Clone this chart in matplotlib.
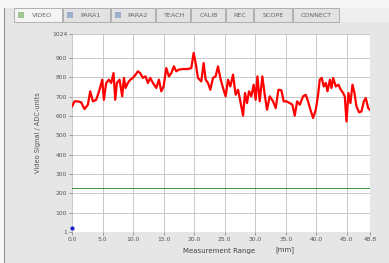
import matplotlib.pyplot as plt
from matplotlib.patches import Rectangle

position = [0.0, 0.41, 0.96, 1.50, 2.05, 2.60, 2.98, 3.42, 3.96, 4.51, 4.95, 5.22,
            5.60, 6.04, 6.42, 6.80, 7.08, 7.35, 7.79, 8.22, 8.50, 8.77, 9.15, 9.54,
            9.97, 10.41, 10.79, 11.17, 11.61, 12.05, 12.43, 12.81, 13.25, 13.80,
            14.23, 14.62, 15.00, 15.44, 15.87, 16.26, 16.69, 17.08, 17.51, 18.17,
            18.99, 19.54, 19.92, 20.25, 20.63, 21.17, 21.56, 21.89, 22.27, 22.65,
            23.09, 23.52, 23.91, 24.29, 24.73, 25.16, 25.55, 25.93, 26.37, 26.80,
            27.19, 27.57, 28.01, 28.33, 28.66, 28.99, 29.37, 29.75, 30.08, 30.36,
            30.74, 31.17, 31.56, 31.94, 32.38, 32.92, 33.36, 33.80, 34.29, 34.67,
            35.11, 35.66, 36.09, 36.48, 36.86, 37.30, 37.84, 38.28, 38.66, 39.04,
            39.48, 39.92, 40.30, 40.57, 40.90, 41.23, 41.56, 41.84, 42.23, 42.49,
            42.76, 43.20, 43.63, 44.02, 44.40, 44.67, 44.95, 45.27, 45.60, 45.93,
            46.26, 46.58, 47.02, 47.40, 47.79, 48.11, 48.50, 48.77]
signal = [650, 676, 676, 671, 636, 659, 728, 676, 684, 736, 788, 684,
          771, 788, 771, 822, 684, 771, 788, 702, 797, 745, 771, 788,
          797, 814, 831, 822, 797, 805, 771, 797, 771, 745,
          788, 728, 753, 848, 805, 822, 857, 831, 840, 843,
          843, 848, 926, 874, 797, 779, 874, 788, 771, 736,
          797, 805, 857, 797, 745, 702, 788, 753, 814, 710,
          736, 676, 602, 719, 667, 728, 702, 762, 684, 805,
          676, 805, 710, 633, 702, 676, 641, 736, 733, 676,
          676, 667, 659, 602, 676, 659, 702, 710, 676, 633,
          590, 633, 710, 788, 797, 753, 771, 728, 788, 745,
          797, 753, 762, 736, 719, 702, 572, 719, 667, 762,
          719, 650, 619, 624, 676, 693, 641, 633]
threshold = 228
start_point = (0.0, 22)

tabs = ["VIDEO", "PARA1", "PARA2", "TEACH", "CALIB", "REC", "SCOPE", "CONNECT"]
tab_edges = [14, 63, 111, 156, 191, 226, 254, 293, 340]  # pixel columns of the tab strip

y_ticks = [1, 100, 200, 300, 400, 500, 600, 700, 800, 900, 1024]
x_ticks = [0.0, 5.0, 10.0, 15.0, 20.0, 25.0, 30.0, 35.0, 40.0, 45.0, 48.8]

W, H = 389, 263
fig = plt.figure(figsize=(W / 100, H / 100), dpi=100)
fig.patch.set_facecolor('#e6e6e6')

def px(x0, y0, w, h, **kw):
    fig.add_artist(Rectangle((x0 / W, 1 - (y0 + h) / H), w / W, h / H,
                             transform=fig.transFigure, **kw))

# window chrome: white strip on top/left, panel border, tabs
px(0, 0, W, 8, color='#f7f7f7', lw=0)
px(0, 0, 4, H, color='#f7f7f7', lw=0)
px(4, 8, 1.2, H - 8, color='#8c8c8c', lw=0)
px(340, 8, W - 340, 14, color='#eeeeee', lw=0)
for i, name in enumerate(tabs):
    x0, x1 = tab_edges[i], tab_edges[i + 1]
    face = '#f4f4f4' if i == 0 else '#e2e2e2'
    px(x0, 8, x1 - x0 - 1, 14, facecolor=face, edgecolor='#a8a8a8', lw=0.6)
    tx = (x0 + x1) / 2
    if i < 3:
        tx += 4
        icon = '#6aa84f' if i == 0 else '#6f8fbf'
        px(x0 + 4, 12, 6, 6, color=icon, lw=0, alpha=0.6)
    fig.text(tx / W, 1 - 15.5 / H, name, fontsize=4.6, color='#666666',
             ha='center', va='center')

ax = fig.add_axes([72 / W, 31 / H, (370 - 72) / W, (232 - 34) / H])
ax.set_facecolor('white')
ax.plot(position, signal, color='#ff0000', lw=1.6, zorder=3)
ax.axhline(threshold, color='#3c963c', lw=0.7, zorder=2)
ax.plot(*start_point, marker='o', ms=2, color='#1a1acc', zorder=4, clip_on=False)

ax.set_xlim(0, 48.8)
ax.set_ylim(1, 1024)
ax.set_xticks(x_ticks)
ax.set_xticklabels([f"{v:.1f}" for v in x_ticks])
ax.set_yticks(y_ticks)
ax.grid(True, color='#c8c8c8', lw=0.7)
ax.tick_params(labelsize=4.3, colors='#777777', length=2, width=0.5, pad=1.5,
               labelcolor='#555555')
for s in ax.spines.values():
    s.set_visible(False)

ax.set_ylabel('Video Signal / ADC-units', fontsize=4.8, color='#555555', labelpad=8)
fig.text(219 / W, 1 - 251 / H, 'Measurement Range', fontsize=5, color='#444444',
         ha='center', va='center')
fig.text(285 / W, 1 - 250 / H, '[mm]', fontsize=5, color='#444444',
         ha='center', va='center')

fig.savefig('out.png', dpi=100, facecolor=fig.get_facecolor())
